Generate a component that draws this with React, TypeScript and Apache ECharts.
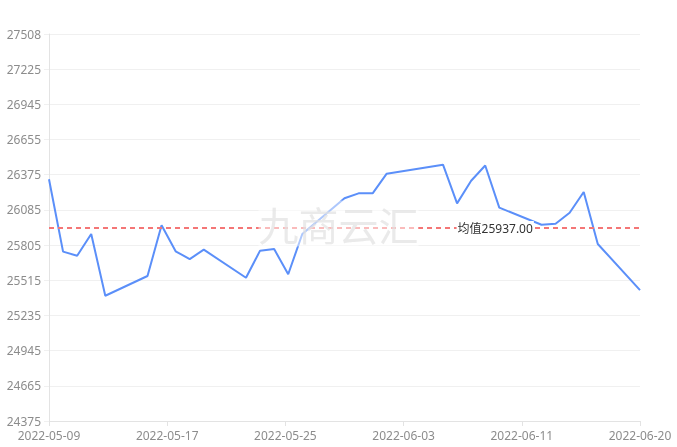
import React, { useEffect, useRef } from "react";
import * as echarts from "echarts";

const DATES = [
  "2022-05-09", "2022-05-10", "2022-05-11", "2022-05-12", "2022-05-13",
  "2022-05-16", "2022-05-17", "2022-05-18", "2022-05-19", "2022-05-20",
  "2022-05-23", "2022-05-24", "2022-05-25", "2022-05-26", "2022-05-27",
  "2022-05-30", "2022-05-31", "2022-06-01", "2022-06-02", "2022-06-06",
  "2022-06-07", "2022-06-08", "2022-06-09", "2022-06-10", "2022-06-13",
  "2022-06-14", "2022-06-15", "2022-06-16", "2022-06-17", "2022-06-20",
];
const VALUES = [
  26332, 25746, 25713, 25889, 25389,
  25549, 25959, 25749, 25686, 25762,
  25535, 25754, 25767, 25563, 25889,
  26178, 26218, 26218, 26377, 26450,
  26137, 26320, 26443, 26102, 25964,
  25972, 26061, 26229, 25808, 25435,
];
const X_START = "2022-05-09";
const X_END = "2022-06-20";
const X_SPLITS = 5;
const Y_TICKS = ["24375", "24665", "24945", "25235", "25515", "25805", "26085", "26375", "26655", "26945", "27225", "27508"];
const AVERAGE = 25937;
const AVG_LABEL_FRACTION = 0.755;
const WATERMARK = "九商云汇";

const DAY = 86400000;
const toMs = (s: string) => {
  const [y, m, d] = s.split("-").map(Number);
  return Date.UTC(y, m - 1, d);
};
const startMs = toMs(X_START);
const dayIdx = (s: string) => Math.round((toMs(s) - startMs) / DAY);
const fmtDate = (ms: number) => new Date(ms).toISOString().slice(0, 10);

export default function App() {
  const ref = useRef<HTMLDivElement>(null);
  useEffect(() => {
    if (!ref.current) return;
    const chart = echarts.init(ref.current, undefined, { renderer: "svg" });
    const xMax = dayIdx(X_END);
    const xInterval = xMax / X_SPLITS;
    const yMin = Number(Y_TICKS[0]);
    const yMax = Number(Y_TICKS[Y_TICKS.length - 1]);
    const yRange = yMax - yMin;
    const yInterval = yRange / (Y_TICKS.length - 1);
    const font = "'Noto Sans', 'Noto Sans CJK SC', sans-serif";
    const data = DATES.map((d, i) => [dayIdx(d), VALUES[i] - yMin]);

    chart.setOption({
      animation: false,
      textStyle: { fontFamily: font },
      grid: { left: 49, right: 37, top: 34, bottom: 26, containLabel: false },
      xAxis: {
        type: "value",
        min: 0,
        max: xMax,
        interval: xInterval,
        splitLine: { show: false },
        axisLine: { show: true, lineStyle: { color: "#e3e3e3", width: 1 } },
        axisTick: { show: true, length: 5, lineStyle: { color: "#e3e3e3" } },
        axisLabel: {
          color: "#8c8c8c",
          fontSize: 12,
          fontFamily: font,
          showMinLabel: true,
          showMaxLabel: true,
          hideOverlap: false,
          formatter: (v: number) => fmtDate(startMs + Math.floor(v + 1e-6) * DAY),
        },
      },
      yAxis: {
        type: "value",
        min: 0,
        max: yRange,
        interval: yInterval,
        axisLine: { show: true, lineStyle: { color: "#e3e3e3", width: 1 } },
        axisTick: { show: true, length: 5, lineStyle: { color: "#f0f0f0" } },
        splitLine: { show: true, lineStyle: { color: "#f0f0f0", width: 1 } },
        axisLabel: {
          color: "#8c8c8c",
          fontSize: 12,
          fontFamily: font,
          showMinLabel: true,
          showMaxLabel: true,
          formatter: (v: number) => Y_TICKS[Math.round(v / yInterval)] ?? "",
        },
      },
      series: [
        {
          type: "line",
          data,
          showSymbol: false,
          symbol: "none",
          lineStyle: { color: "#5B8FF9", width: 2 },
          itemStyle: { color: "#5B8FF9" },
          markLine: {
            silent: true,
            symbol: "none",
            label: { show: false },
            lineStyle: { color: "#F47676", width: 2, type: [5, 4] },
            data: [{ yAxis: AVERAGE - yMin }],
          },
          markPoint: {
            silent: true,
            symbol: "rect",
            symbolSize: 1,
            itemStyle: { color: "rgba(0,0,0,0)" },
            label: {
              show: true,
              position: "inside",
              color: "#333",
              fontSize: 12,
              fontFamily: font,
              backgroundColor: "#fff",
              padding: [1, 1],
              formatter: () => "均值" + AVERAGE.toFixed(2),
            },
            data: [{ coord: [xMax * AVG_LABEL_FRACTION, AVERAGE - yMin] }],
          },
        },
      ],
      graphic: [
        {
          type: "text",
          left: "center",
          top: "middle",
          z: 100,
          silent: true,
          style: {
            text: WATERMARK,
            fontSize: 40,
            fontFamily: "'Noto Sans CJK SC', sans-serif",
            fill: "rgba(225,225,225,0.7)",
            backgroundColor: "rgba(255,255,255,0.5)",
            padding: [3, 0],
          },
        },
      ],
    });
    return () => chart.dispose();
  }, []);
  return (
    <div
      ref={ref}
      style={{ position: "fixed", left: 0, top: 0, width: 677, height: 447 }}
    />
  );
}
